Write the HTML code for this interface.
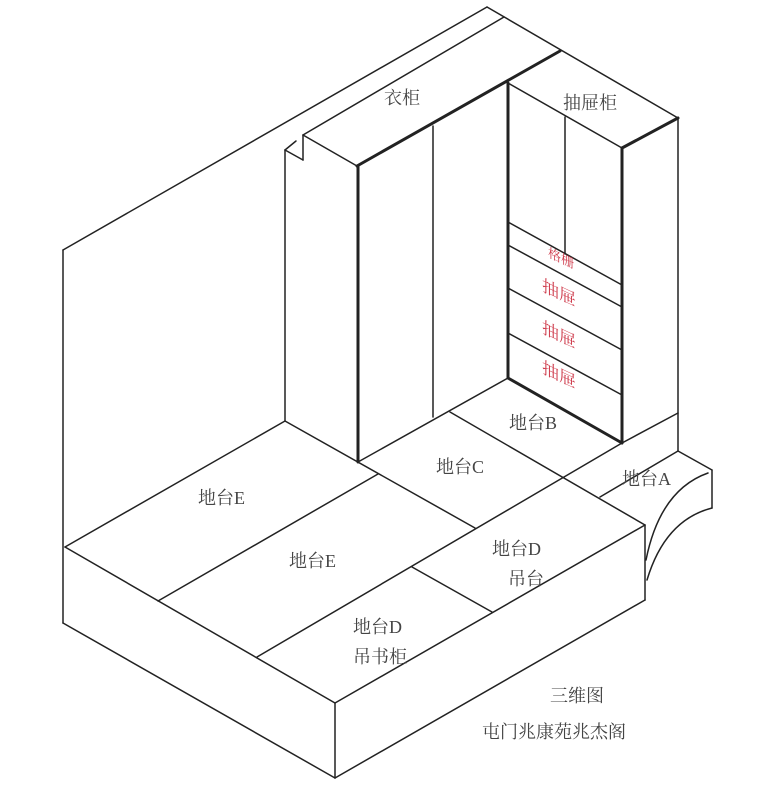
<!DOCTYPE html>
<html><head><meta charset="utf-8"><style>
html,body{margin:0;padding:0;background:#fff;}
svg{display:block}
text{font-family:"Liberation Serif","Noto Serif CJK SC","Noto Sans CJK SC",serif;fill:#444;font-size:18px;}
.r{fill:#d04050;font-size:17px;}
</style></head><body>
<svg width="772" height="800" viewBox="0 0 772 800" xmlns="http://www.w3.org/2000/svg">
<g stroke="#222" stroke-width="1.5" fill="none" stroke-linecap="round" stroke-linejoin="round">
<!-- wall -->
<line x1="63" y1="250" x2="487" y2="7"/>
<line x1="487" y1="7" x2="678" y2="118"/>
<line x1="63" y1="250" x2="63" y2="623"/>
<!-- wardrobe top -->
<line x1="303" y1="135" x2="504" y2="17"/>
<line x1="303" y1="135" x2="357" y2="166"/>
<line x1="303" y1="135" x2="303" y2="160"/>
<line x1="285" y1="150" x2="303" y2="160"/>
<line x1="285" y1="150" x2="296" y2="141"/>
<line x1="285" y1="150" x2="285" y2="421"/>
<line x1="357" y1="166" x2="560" y2="51" stroke-width="3"/>
<line x1="358" y1="166" x2="358" y2="462" stroke-width="3"/>
<line x1="433" y1="126" x2="433" y2="417"/>
<line x1="508" y1="83" x2="508" y2="378" stroke-width="3"/>
<line x1="508" y1="83" x2="622" y2="148"/>
<line x1="622" y1="148" x2="678" y2="118" stroke-width="3"/>
<line x1="622" y1="148" x2="622" y2="443" stroke-width="3"/>
<line x1="678" y1="118" x2="678" y2="451"/>
<line x1="565" y1="117" x2="565" y2="254"/>
<!-- drawers -->
<line x1="508" y1="222" x2="622" y2="285"/>
<line x1="508" y1="245" x2="622" y2="307"/>
<line x1="508" y1="288" x2="622" y2="350"/>
<line x1="508" y1="333" x2="622" y2="395"/>
<line x1="508" y1="378" x2="622" y2="443" stroke-width="3"/>
<line x1="622" y1="443" x2="678" y2="413"/>
<!-- wardrobe bottom -->
<line x1="285" y1="421" x2="475" y2="528"/>
<line x1="358" y1="462" x2="508" y2="378"/>
<!-- platform -->
<line x1="65" y1="547" x2="285" y2="421"/>
<line x1="65" y1="547" x2="335" y2="703"/>
<line x1="63" y1="623" x2="335" y2="778"/>
<line x1="335" y1="703" x2="335" y2="778"/>
<line x1="335" y1="703" x2="645" y2="525"/>
<line x1="335" y1="778" x2="645" y2="600"/>
<line x1="645" y1="525" x2="645" y2="600"/>
<line x1="158" y1="601" x2="378" y2="474"/>
<line x1="257" y1="657" x2="622" y2="443"/>
<line x1="412" y1="567" x2="492" y2="612"/>
<line x1="450" y1="412" x2="645" y2="525"/>
<!-- A -->
<line x1="600" y1="497" x2="678" y2="451"/>
<line x1="678" y1="451" x2="712" y2="470"/>
<line x1="712" y1="470" x2="712" y2="508"/>
<path d="M708,473 Q660,490 646,560"/>
<path d="M712,508 Q665,520 647,580"/>
</g>
<text x="384" y="104">衣柜</text>
<text x="563" y="109">抽屉柜</text>
<g transform="translate(566,265) skewY(25)"><text class="r" x="-18" y="0" style="font-size:13px">格栅</text></g>
<g transform="translate(562,300) skewY(25)"><text class="r" x="-20" y="0">抽屉</text></g>
<g transform="translate(562,342) skewY(25)"><text class="r" x="-20" y="0">抽屉</text></g>
<g transform="translate(562,382) skewY(25)"><text class="r" x="-20" y="0">抽屉</text></g>
<text x="509" y="429">地台B</text>
<text x="436" y="473">地台C</text>
<text x="622" y="485">地台A</text>
<text x="198" y="504">地台E</text>
<text x="289" y="567">地台E</text>
<text x="492" y="555">地台D</text>
<text x="508" y="585">吊台</text>
<text x="353" y="633">地台D</text>
<text x="353" y="663">吊书柜</text>
<text x="550" y="702">三维图</text>
<text x="482" y="738">屯门兆康苑兆杰阁</text>
</svg>
</body></html>
